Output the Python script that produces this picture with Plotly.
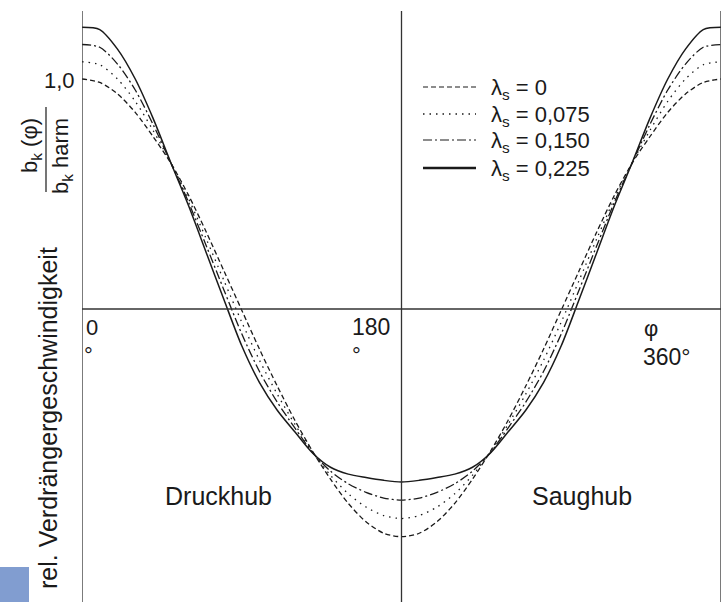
import plotly.graph_objects as go

# ---- data (phi in degrees, relative velocity) ----
phi = list(range(0, 361, 10))

lam0 = [1.0, 0.985, 0.935, 0.855, 0.75, 0.635, 0.495, 0.335, 0.165, -0.005,
        -0.175, -0.335, -0.485, -0.62, -0.74, -0.845, -0.925, -0.975, -0.99,
        -0.975, -0.925, -0.845, -0.74, -0.62, -0.485, -0.335, -0.175, -0.005,
        0.165, 0.335, 0.495, 0.635, 0.75, 0.855, 0.935, 0.985, 1.0]
lam075 = [1.075, 1.062, 1.00, 0.903, 0.777, 0.636, 0.48, 0.305, 0.123, -0.057,
          -0.223, -0.37, -0.502, -0.622, -0.723, -0.803, -0.861, -0.898, -0.911,
          -0.898, -0.861, -0.803, -0.723, -0.622, -0.502, -0.37, -0.223, -0.057,
          0.123, 0.305, 0.48, 0.636, 0.777, 0.903, 1.00, 1.062, 1.075]
lam150 = [1.15, 1.138, 1.065, 0.952, 0.803, 0.636, 0.465, 0.275, 0.082, -0.108,
          -0.272, -0.405, -0.518, -0.625, -0.705, -0.76, -0.797, -0.822, -0.831,
          -0.822, -0.797, -0.76, -0.705, -0.625, -0.518, -0.405, -0.272, -0.108,
          0.082, 0.275, 0.465, 0.636, 0.803, 0.952, 1.065, 1.138, 1.15]
lam225 = [1.225, 1.215, 1.13, 1.00, 0.83, 0.637, 0.45, 0.245, 0.04, -0.16,
          -0.32, -0.44, -0.535, -0.627, -0.688, -0.718, -0.733, -0.745, -0.752,
          -0.745, -0.733, -0.718, -0.688, -0.627, -0.535, -0.44, -0.32, -0.16,
          0.04, 0.245, 0.45, 0.637, 0.83, 1.00, 1.13, 1.215, 1.225]

series_labels = ["λ<sub>s</sub> = 0", "λ<sub>s</sub> = 0,075",
                 "λ<sub>s</sub> = 0,150", "λ<sub>s</sub> = 0,225"]
series_values = [lam0, lam075, lam150, lam225]
series_dash = ["5px,3px", "1.5px,5px", "9px,3px,2px,3px", "solid"]
series_width = [1.3, 1.3, 1.3, 1.5]

W, H = 722, 602
L, R, T, B = 82, 1, 11, 0
PW, PH = W - L - R, H - T - B
Y_TOP, Y_BOT = (309 - T) / 230.0, (309 - H) / 230.0

def xp(px):
    return (px - L) / PW

def yp(py):
    return (H - B - py) / PH

FONT = "Liberation Sans, Arial, sans-serif"
INK = "#1a1a1a"

fig = go.Figure()
for vals, dash, w in zip(series_values, series_dash, series_width):
    fig.add_trace(go.Scatter(x=phi, y=vals, mode="lines",
                             line=dict(color=INK, width=w, dash=dash, shape="spline", smoothing=0.8),
                             showlegend=False, hoverinfo="skip"))

shapes = []
for xv in (0, 180, 360):
    shapes.append(dict(type="line", xref="x", yref="paper", x0=xv, x1=xv, y0=0, y1=1,
                       line=dict(color="#333333", width=1.3)))
shapes.append(dict(type="line", xref="x", yref="y", x0=0, x1=360, y0=0, y1=0,
                   line=dict(color="#333333", width=1.3)))

leg_rows = [87, 114, 140, 168]
for row, dash, lw in zip(leg_rows, series_dash, [1.2, 1.3, 1.2, 2.6]):
    shapes.append(dict(type="line", xref="paper", yref="paper",
                       x0=xp(423), x1=xp(476), y0=yp(row), y1=yp(row),
                       line=dict(color=INK, width=lw, dash=dash)))

shapes.append(dict(type="line", xref="paper", yref="paper",
                   x0=xp(46), x1=xp(46), y0=yp(107), y1=yp(192),
                   line=dict(color=INK, width=1.2)))
shapes.append(dict(type="rect", xref="paper", yref="paper",
                   x0=xp(0), x1=xp(29), y0=yp(602), y1=yp(567),
                   line=dict(width=0), fillcolor="#819dd0"))

ann = []
def add(text, x, y, size=22, xanchor="center", yanchor="middle", angle=0):
    ann.append(dict(text=text, xref="paper", yref="paper", x=xp(x), y=yp(y),
                    xanchor=xanchor, yanchor=yanchor, showarrow=False, textangle=angle,
                    font=dict(family=FONT, size=size, color=INK)))

add("1,0", 77, 80, xanchor="right")
add("0", 84, 327, xanchor="left")
add("°", 88, 355)
add("180", 392, 327, size=23, xanchor="right")
add("°", 356, 355)
add("φ", 642, 328, xanchor="left")
add("360°", 641, 357, size=23, xanchor="left")
add("Druckhub", 218, 496, size=25)
add("Saughub", 582, 496, size=25)
for row, lab in zip(leg_rows, series_labels):
    add(lab, 489, row + 2, xanchor="left")

add("b<sub>k</sub> (φ)", 31, 146, angle=-90)
add("b<sub>k</sub> harm", 62, 156, angle=-90)
add("rel. Verdrängergeschwindigkeit", 48, 418, size=25, angle=-90)

fig.update_layout(
    width=W, height=H,
    margin=dict(l=L, r=R, t=T, b=B, pad=0),
    paper_bgcolor="white", plot_bgcolor="white",
    xaxis=dict(range=[0, 360], visible=False, fixedrange=True),
    yaxis=dict(range=[Y_BOT, Y_TOP], visible=False, fixedrange=True),
    shapes=shapes, annotations=ann, showlegend=False,
    font=dict(family=FONT, color=INK),
)
fig.write_html("out.html", config={"displayModeBar": False},
               post_script="document.body.style.margin='0px';document.body.style.overflow='hidden';")
